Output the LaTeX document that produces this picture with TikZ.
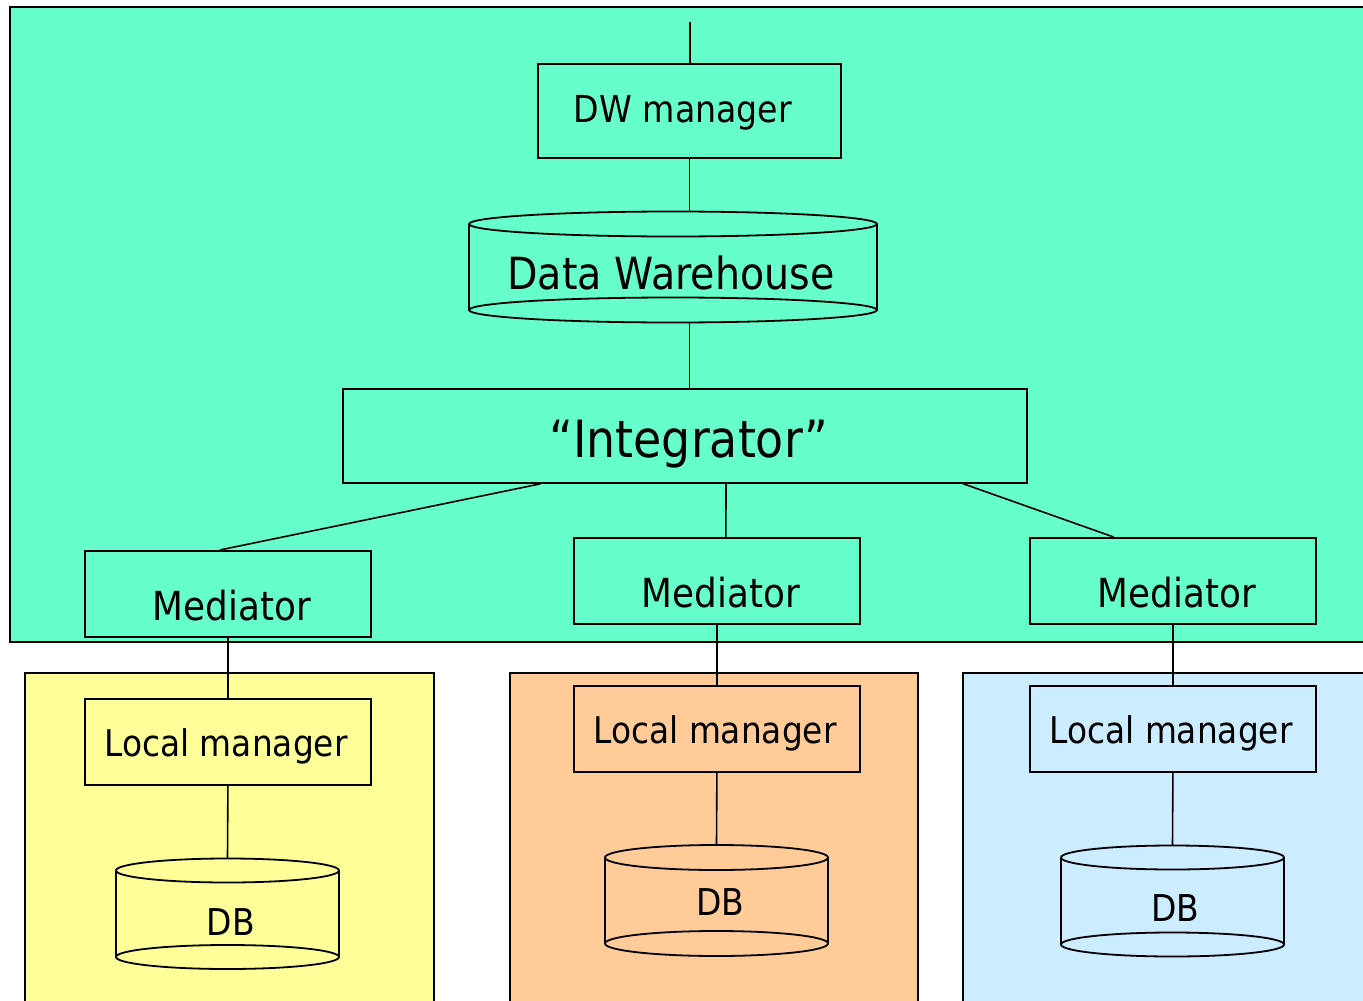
\documentclass[tikz,border=0pt]{standalone}
\usepackage{fontspec}
\setmainfont{DejaVu Sans}
\usetikzlibrary{calc}
\definecolor{dwgreen}{HTML}{66FFCC}
\definecolor{lyellow}{HTML}{FFFF99}
\definecolor{lorange}{HTML}{FFCC99}
\definecolor{lblue}{HTML}{CCECFF}
\newcommand\fitw[2]{\scalebox{1}[1.12]{\resizebox{#1pt}{!}{#2}}}
\newcommand\dbcyl[7]{% name, cx, topcy, botcy, rx, ry, fill
  \fill[#7] (#2-#5,#3) -- (#2-#5,#4) arc[start angle=180,end angle=0,x radius=#5,y radius=#6]
    -- (#2+#5,#3) arc[start angle=0,end angle=-180,x radius=#5,y radius=#6] -- cycle;
  \draw[cylline] (#2,#3) ellipse[x radius=#5,y radius=#6];
  \draw[cylline] (#2,#4) ellipse[x radius=#5,y radius=#6];
  \draw[cylline] (#2-#5,#3) -- (#2-#5,#4) (#2+#5,#3) -- (#2+#5,#4);
  \coordinate (#1-top) at (#2,#3-#6);
  \coordinate (#1-bot) at (#2,#4+#6);
}
\begin{document}
\begin{tikzpicture}[x=1pt,y=-1pt,
  panel/.style={draw, line width=1.8pt, rectangle, inner sep=0pt, anchor=north west},
  box/.style={draw, line width=1.8pt, rectangle, inner sep=0pt, anchor=north west, minimum width=286pt, minimum height=86pt},
  conn/.style={line width=1.6pt},
  cylline/.style={line width=1.8pt},
  lbl/.style={anchor=base, inner sep=0pt}]
\useasboundingbox (0,0) rectangle (1363,1001);
\clip (0,0) rectangle (1363,1001);
\fill[white] (0,0) rectangle (1363,1001);
% panels
\node[panel, fill=dwgreen, minimum width=1370pt, minimum height=635pt] (green) at (9,6) {};
\node[panel, fill=lyellow, minimum width=409pt, minimum height=340pt] (yel) at (24,672) {};
\node[panel, fill=lorange, minimum width=408pt, minimum height=340pt] (ora) at (509,672) {};
\node[panel, fill=lblue, minimum width=410pt, minimum height=340pt] (blu) at (962,672) {};
% top part
\node[box, minimum width=303pt, minimum height=94pt] (dwm) at (537,63) {};
\node[lbl] (dwmt) at (683,122) {\fitw{218}{DW manager}};
\coordinate (topend) at (690,22);
\draw[conn] (topend) -- (topend |- dwm.north);
\dbcyl{dw}{673}{224}{310}{204}{12.5}{dwgreen}
\node[lbl] (dwt) at (671,289) {\fitw{327}{Data Warehouse}};
\node[box, minimum width=684pt, minimum height=94pt] (integ) at (342,388) {};
\node[lbl] (integt) at (689,457) {\fitw{279}{“Integrator”}};
\draw[conn] (dwm.south) -- (dwm.south |- dw-top);
\draw[conn] (dw-bot -| dwm.south) -- (integ.north -| dwm.south);
% mediators
\node[box] (m1) at (84,550) {};
\node[box] (m2) at (573,537) {};
\node[box] (m3) at (1029,537) {};
\node[lbl] (m1t) at (232,620) {\fitw{158}{Mediator}};
\node[lbl] (m2t) at (721,607) {\fitw{158}{Mediator}};
\node[lbl] (m3t) at (1177,607) {\fitw{158}{Mediator}};
\draw[conn] ($(integ.south west)!0.2895!(integ.south east)$) -- ($(m1.north west)!0.472!(m1.north east)$);
\draw[conn] ($(integ.south west)!0.56!(integ.south east)$) -- ($(m2.north west)!0.531!(m2.north east)$);
\draw[conn] ($(integ.south west)!0.906!(integ.south east)$) -- ($(m3.north west)!0.294!(m3.north east)$);
% local managers
\node[box] (l1) at (84,698) {};
\node[box] (l2) at (573,685) {};
\node[box] (l3) at (1029,685) {};
\node[lbl] (l1t) at (226,756) {\fitw{243}{Local manager}};
\node[lbl] (l2t) at (715,743) {\fitw{243}{Local manager}};
\node[lbl] (l3t) at (1171,743) {\fitw{243}{Local manager}};
\draw[conn] (m1.south) -- (l1.north);
\draw[conn] (m2.south) -- (l2.north);
\draw[conn] (m3.south) -- (l3.north);
% DBs
\dbcyl{db1}{227.5}{870.5}{957}{111.5}{12}{lyellow}
\dbcyl{db2}{716.5}{857.5}{943.5}{111.5}{12.5}{lorange}
\dbcyl{db3}{1172.5}{857.5}{944.5}{111.5}{12}{lblue}
\node[lbl] (db1t) at (231,935) {\fitw{48}{DB}};
\node[lbl] (db2t) at (720.5,915) {\fitw{48}{DB}};
\node[lbl] (db3t) at (1175.5,921) {\fitw{48}{DB}};
\draw[conn] (l1.south) -- (db1-top);
\draw[conn] (l2.south) -- (db2-top);
\draw[conn] (l3.south) -- (db3-top);
\end{tikzpicture}
\end{document}
